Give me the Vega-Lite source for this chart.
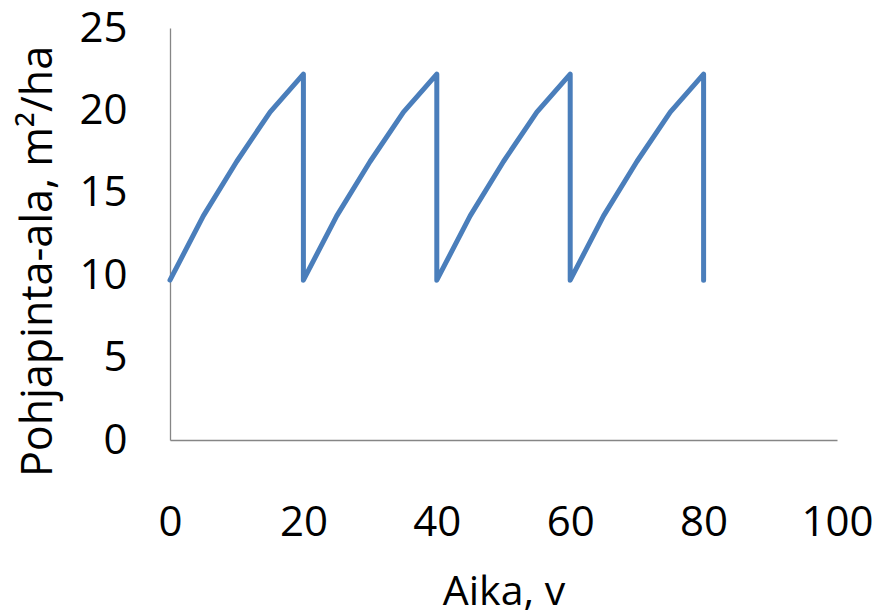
{
  "$schema": "https://vega.github.io/schema/vega-lite/v6.json",
  "width": 667,
  "height": 412,
  "autosize": "none",
  "padding": {"left": 170, "top": 28, "right": 44, "bottom": 175},
  "background": "white",
  "config": {"view": {"stroke": null}, "font": "Open Sans"},
  "data": {"values": [
    {"i": 1, "t": 0, "ba": 9.7},
    {"i": 2, "t": 5, "ba": 13.6},
    {"i": 3, "t": 10, "ba": 16.9},
    {"i": 4, "t": 15, "ba": 19.9},
    {"i": 5, "t": 20, "ba": 22.2},
    {"i": 6, "t": 20, "ba": 9.7},
    {"i": 7, "t": 25, "ba": 13.6},
    {"i": 8, "t": 30, "ba": 16.9},
    {"i": 9, "t": 35, "ba": 19.9},
    {"i": 10, "t": 40, "ba": 22.2},
    {"i": 11, "t": 40, "ba": 9.7},
    {"i": 12, "t": 45, "ba": 13.6},
    {"i": 13, "t": 50, "ba": 16.9},
    {"i": 14, "t": 55, "ba": 19.9},
    {"i": 15, "t": 60, "ba": 22.2},
    {"i": 16, "t": 60, "ba": 9.7},
    {"i": 17, "t": 65, "ba": 13.6},
    {"i": 18, "t": 70, "ba": 16.9},
    {"i": 19, "t": 75, "ba": 19.9},
    {"i": 20, "t": 80, "ba": 22.2},
    {"i": 21, "t": 80, "ba": 9.7}
  ]},
  "mark": {"type": "line", "color": "#4A7EBB", "strokeWidth": 5, "strokeJoin": "round", "strokeCap": "round"},
  "encoding": {
    "x": {
      "field": "t", "type": "quantitative",
      "scale": {"domain": [0, 100], "nice": false, "zero": true},
      "axis": {
        "title": "Aika, v",
        "values": [0, 20, 40, 60, 80, 100],
        "grid": false, "ticks": false, "tickSize": 0,
        "domainColor": "#868686", "domainWidth": 1.3,
        "labelFont": "Open Sans", "labelFontSize": 42, "labelColor": "#000000",
        "labelBaseline": "alphabetic", "labelPadding": 95, "labelFlush": false,
        "titleFont": "Open Sans", "titleFontSize": 41, "titleFontWeight": "normal", "titleColor": "#000000",
        "titleBaseline": "alphabetic", "titleY": 164, "titleAnchor": "middle"
      }
    },
    "y": {
      "field": "ba", "type": "quantitative",
      "scale": {"domain": [0, 25], "nice": false},
      "axis": {
        "title": "Pohjapinta-ala, m²/ha",
        "values": [0, 5, 10, 15, 20, 25],
        "grid": false, "ticks": false, "tickSize": 0,
        "domainColor": "#868686", "domainWidth": 1.3,
        "labelFont": "Open Sans", "labelFontSize": 42, "labelColor": "#000000",
        "labelPadding": 43, "labelFlush": false,
        "titleFont": "Open Sans", "titleFontSize": 43, "titleFontWeight": "normal", "titleColor": "#000000",
        "titleAngle": -90, "titleBaseline": "alphabetic", "titleAlign": "center",
        "titleX": -119, "titleY": 233
      }
    },
    "order": {"field": "i", "type": "quantitative"}
  }
}
